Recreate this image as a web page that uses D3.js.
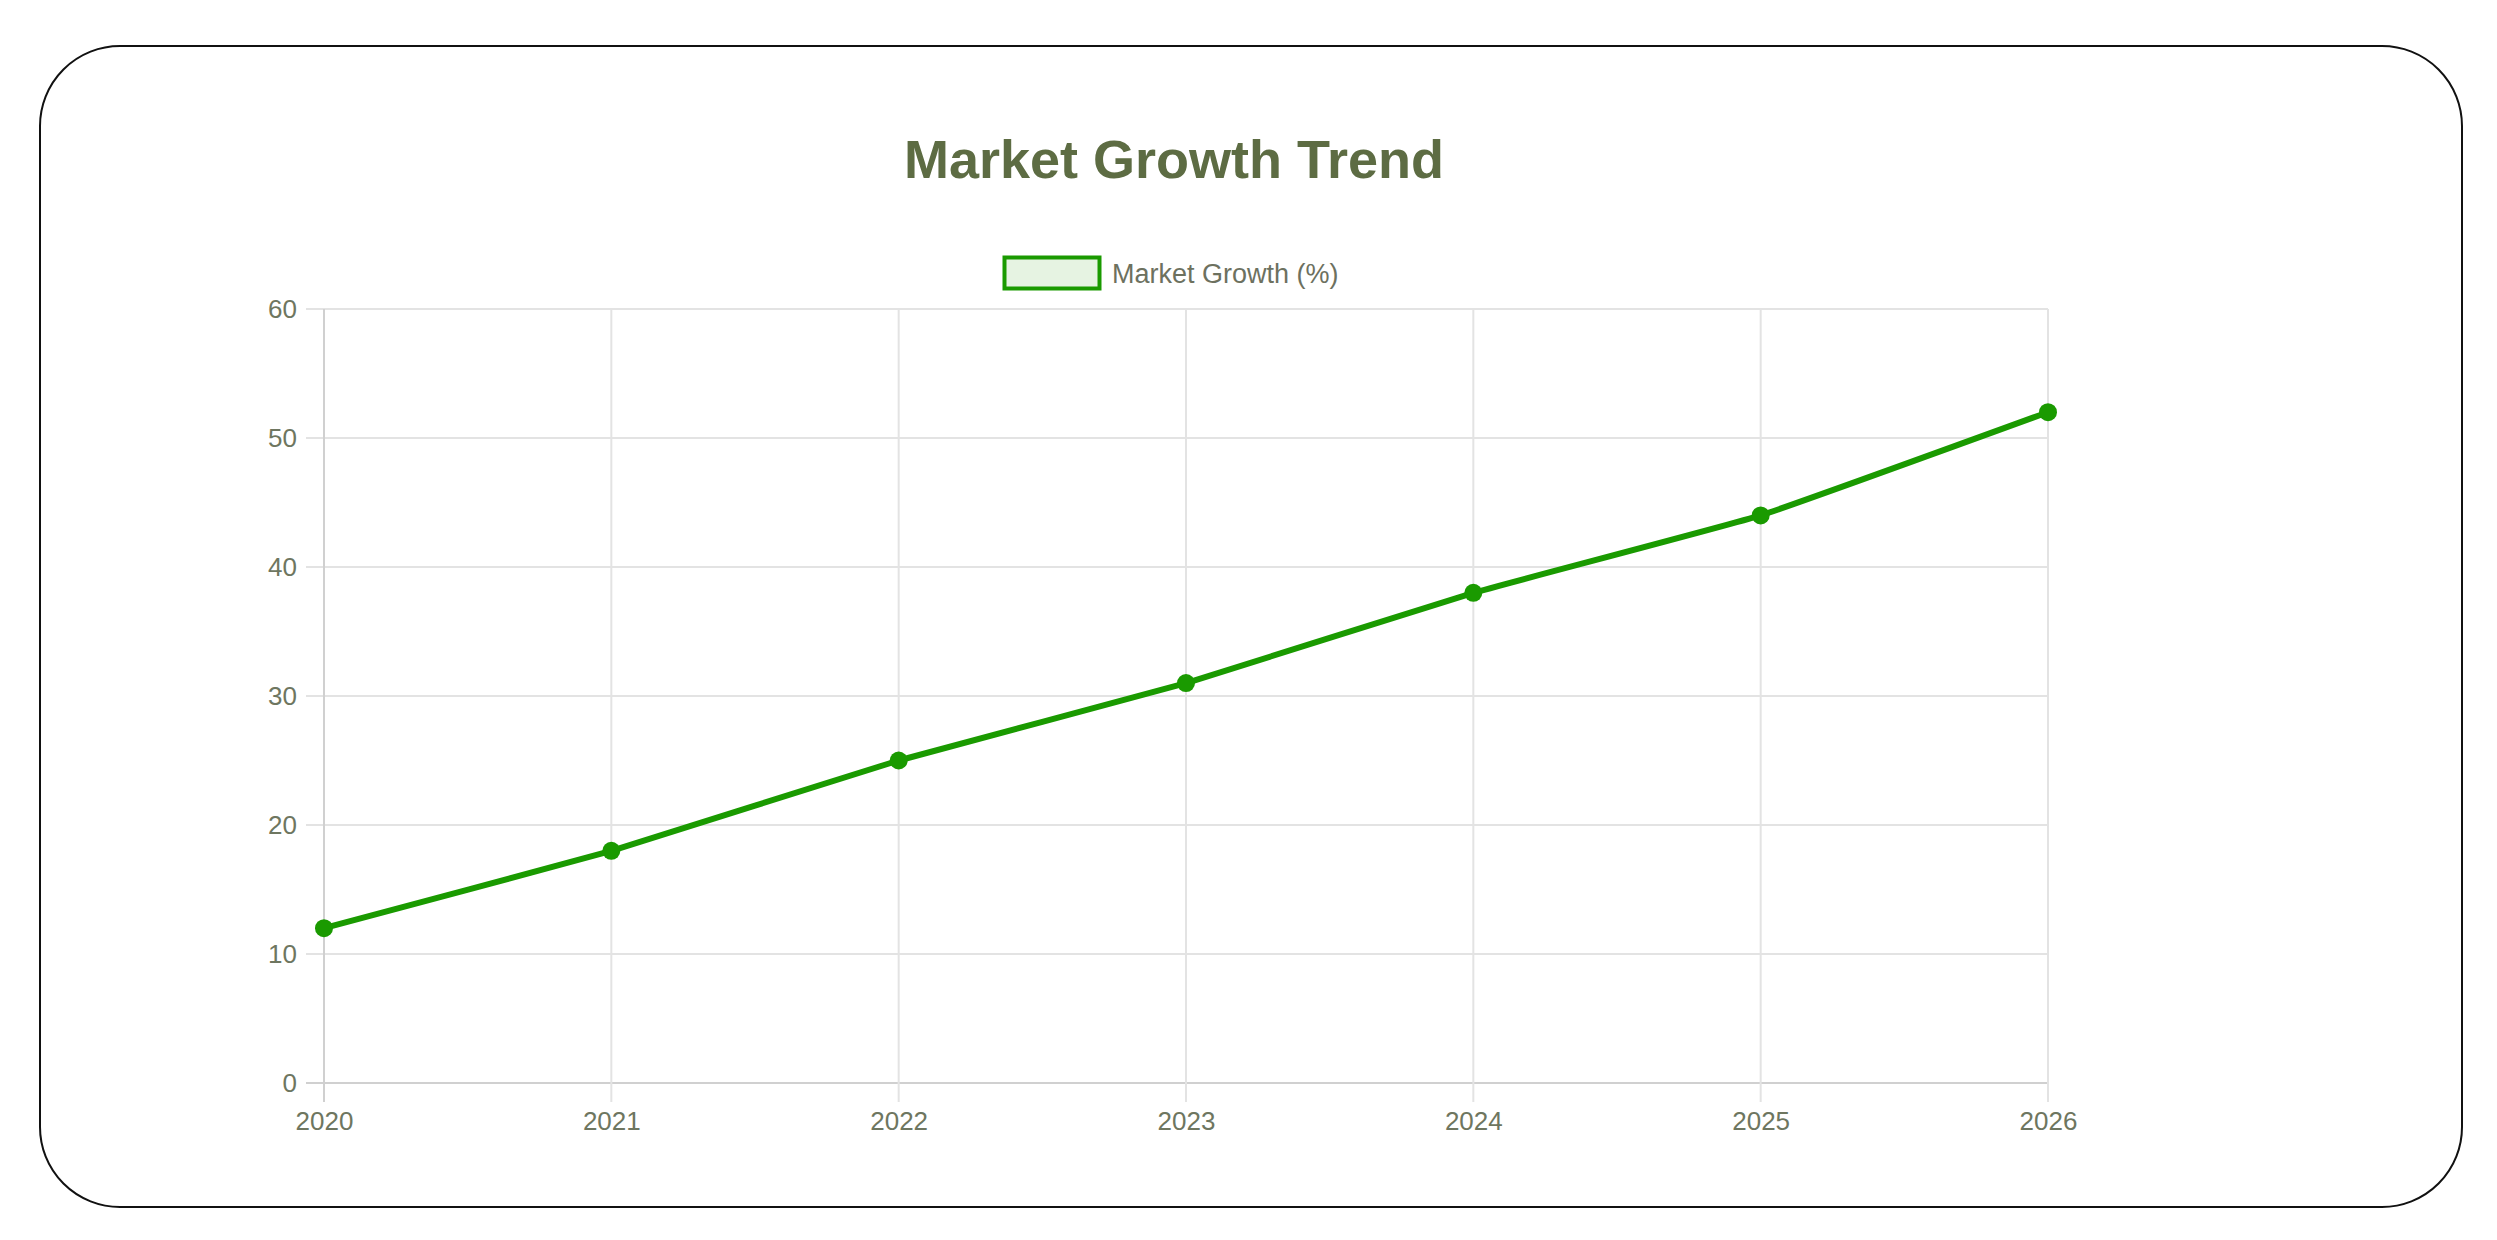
<!DOCTYPE html>
<html><head><meta charset="utf-8">
<script src="https://cdn.jsdelivr.net/npm/d3@7"></script>
<style>html,body{margin:0;padding:0;background:#fff;}svg{display:block;}</style>
</head><body>
<script>
const years = ["2020","2021","2022","2023","2024","2025","2026"];
const growth = [12, 18, 25, 31, 38, 44, 52];
const yTicks = [0, 10, 20, 30, 40, 50, 60];
const seriesName = "Market Growth (%)";
const titleText = "Market Growth Trend";

const W = 2497, H = 1240;
const svg = d3.select("body").append("svg").attr("width", W).attr("height", H);
svg.append("rect").attr("x", 40).attr("y", 46).attr("width", 2422).attr("height", 1161)
  .attr("rx", 80).attr("ry", 80).attr("fill", "#fff").attr("stroke", "#111").attr("stroke-width", 2);

const font = "'Liberation Sans', Arial, Helvetica, sans-serif";
const x = d3.scalePoint().domain(years).range([324, 2048]);
const y = d3.scaleLinear().domain([0, 60]).range([1083, 309]);

svg.append("text").attr("x", 1174).attr("y", 178).attr("text-anchor", "middle")
  .attr("font-family", font).attr("font-weight", "bold").attr("font-size", 54)
  .attr("fill", "#5d6c43").text(titleText);

// legend
svg.append("rect").attr("x", 1004.5).attr("y", 257.5).attr("width", 95).attr("height", 31)
  .attr("fill", "#e6f3e2").attr("stroke", "#1a9a00").attr("stroke-width", 4);
svg.append("text").attr("x", 1112).attr("y", 283).attr("font-family", font).attr("font-size", 27)
  .attr("fill", "#6d715f").text(seriesName);

// grid
const g = svg.append("g");
g.selectAll(".hg").data(yTicks).enter().append("line")
  .attr("x1", 306).attr("x2", 2048).attr("y1", d => y(d)).attr("y2", d => y(d))
  .attr("stroke", d => d === 0 ? "#d0d0d0" : "#e3e3e3").attr("stroke-width", 2);
g.selectAll(".vg").data(years).enter().append("line")
  .attr("x1", d => x(d)).attr("x2", d => x(d)).attr("y1", 309).attr("y2", 1102)
  .attr("stroke", (d, i) => i === 0 ? "#d0d0d0" : "#e3e3e3").attr("stroke-width", 2);

// axes with d3
const yAxis = d3.axisLeft(y).tickValues(yTicks).tickSize(0).tickPadding(27);
const ya = svg.append("g").attr("transform", "translate(324,0)").call(yAxis);
ya.select(".domain").remove();
ya.selectAll("text").attr("font-family", font).attr("font-size", 26).attr("fill", "#6e7660");

const xAxis = d3.axisBottom(x).tickSize(0).tickPadding(29);
const xa = svg.append("g").attr("transform", "translate(0,1083)").call(xAxis);
xa.select(".domain").remove();
xa.selectAll("text").attr("font-family", font).attr("font-size", 26).attr("fill", "#6e7660");

// line
const pts = years.map((yr, i) => [x(yr), y(growth[i])]);
const line = d3.line().curve(d3.curveCardinal.tension(0.7));
svg.append("path").attr("d", line(pts)).attr("fill", "none")
  .attr("stroke", "#1a9a00").attr("stroke-width", 6).attr("stroke-linejoin", "round");
svg.selectAll(".pt").data(pts).enter().append("circle")
  .attr("cx", d => d[0]).attr("cy", d => d[1]).attr("r", 9).attr("fill", "#1a9a00");
</script>
</body></html>
